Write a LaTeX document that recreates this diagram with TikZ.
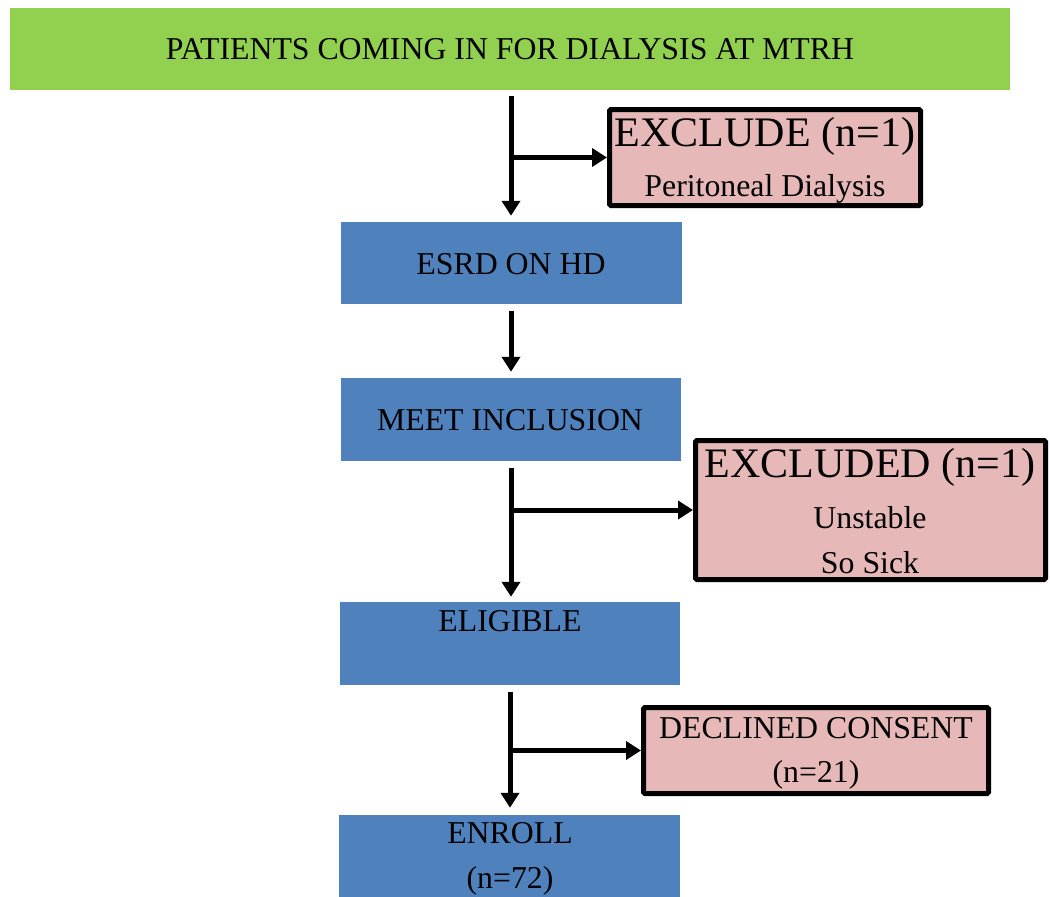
\documentclass[tikz,border=0pt]{standalone}
\usepackage{fontspec}
\setmainfont{Liberation Serif}
\usetikzlibrary{arrows.meta}
\definecolor{topgreen}{HTML}{92D050}
\definecolor{stepblue}{HTML}{4F81BD}
\definecolor{exclpink}{HTML}{E6B8B7}
\tikzset{
  greenbox/.style={fill=topgreen, draw=none, inner sep=0pt},
  bluebox/.style={fill=stepblue, draw=none, inner sep=0pt},
  pinkbox/.style={fill=exclpink, draw=black, line width=5pt, rounded corners=1.5pt, inner sep=0pt},
  txt/.style={inner sep=0pt, anchor=base, font=\fontsize{31.8}{36}\selectfont},
  bigtxt/.style={inner sep=0pt, anchor=base, font=\fontsize{42}{48}\selectfont},
  arr/.style={line width=5pt, -{Triangle[length=15pt 0 0,width=18pt 0 0]}},
}
\begin{document}
\begin{tikzpicture}[x=1pt,y=-1pt]
\useasboundingbox (0,0) rectangle (1050,897);
% boxes
\node[greenbox, minimum width=1000pt, minimum height=82pt] (top) at (510,49) {};
\node[bluebox, minimum width=341pt, minimum height=82pt] (esrd) at (511.5,263) {};
\node[bluebox, minimum width=340pt, minimum height=83pt] (meet) at (511,419.5) {};
\node[bluebox, minimum width=340pt, minimum height=83pt] (elig) at (510,643.5) {};
\node[bluebox, minimum width=341pt, minimum height=82pt] (enroll) at (509.5,856) {};
\node[pinkbox, minimum width=311pt, minimum height=96pt] (ex1) at (765,157.5) {};
\node[pinkbox, minimum width=350pt, minimum height=139pt] (ex2) at (870.5,510) {};
\node[pinkbox, minimum width=345pt, minimum height=86pt] (dec) at (816,750.5) {};
% texts
\node[txt] (ttop) at (510,59) {PATIENTS COMING IN FOR DIALYSIS AT MTRH};
\node[txt] (tesrd) at (511,274) {ESRD ON HD};
\node[txt] (tmeet) at (510,430) {MEET INCLUSION};
\node[txt] (telig) at (510,631) {ELIGIBLE};
\node[txt] (tenr1) at (510,843) {ENROLL};
\node[txt] (tenr2) at (510,888) {(n=72)};
\node[bigtxt] (tex1a) at (765,146) {EXCLUDE (n=1)};
\node[txt] (tex1b) at (765,196) {Peritoneal Dialysis};
\node[bigtxt] (tex2a) at (870,477) {EXCLUDED (n=1)};
\node[txt] (tex2b) at (870,528) {Unstable};
\node[txt] (tex2c) at (870,573) {So Sick};
\node[txt] (tdec1) at (816,738) {DECLINED CONSENT};
\node[txt] (tdec2) at (816,782) {(n=21)};
% connectors
\coordinate (s1) at (511,96);
\coordinate (b1) at (511,157.5);
\coordinate (s2) at (511,311);
\coordinate (s3) at (511,468);
\coordinate (b2) at (511,510);
\coordinate (s4) at (510,692);
\coordinate (b3) at (510,750.5);
\draw[arr] (s1) -- ([yshift=6pt]esrd.north -| s1);
\draw[arr] (b1) -- (ex1.west);
\draw[arr] (s2) -- ([yshift=6pt]meet.north -| s2);
\draw[arr] (s3) -- ([yshift=5pt]elig.north -| s3);
\draw[arr] (b2) -- (ex2.west);
\draw[arr] (s4) -- ([yshift=7pt]enroll.north -| s4);
\draw[arr] (b3) -- (dec.west);
\end{tikzpicture}
\end{document}
